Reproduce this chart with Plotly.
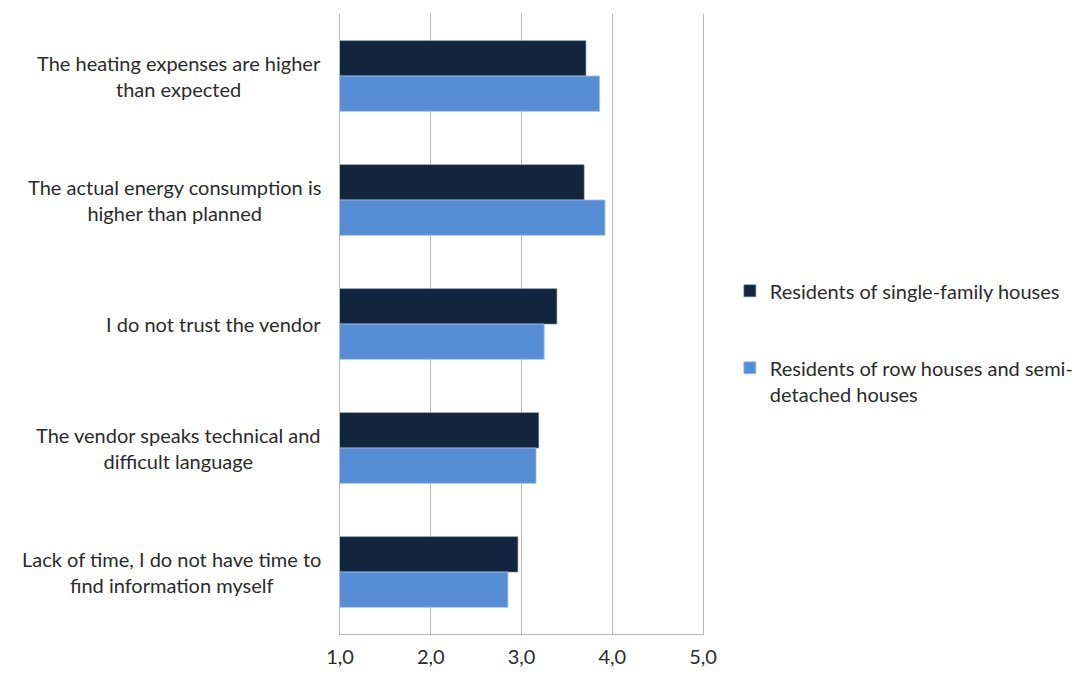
import plotly.graph_objects as go

# Survey statements (top to bottom) and mean agreement scores per housing type
statements = [
    "The heating expenses are higher<br>than expected",
    "The actual energy consumption is<br>higher than planned",
    "I do not trust the vendor",
    "The vendor speaks technical and<br>difficult language",
    "Lack of time, I do not have time to<br>find information myself",
]
single_family = [3.71, 3.69, 3.39, 3.19, 2.96]
row_semi_detached = [3.86, 3.92, 3.25, 3.16, 2.85]

tick_values = [1, 2, 3, 4, 5]
tick_labels = ["1,0", "2,0", "3,0", "4,0", "5,0"]

series_names = [
    "Residents of single-family houses",
    "Residents of row houses and semi-<br>detached houses",
]

FONT = "Lato, 'Open Sans', sans-serif"
TEXT_COLOR = "#2b2b2b"
DARK = "#11253F"
LIGHT = "#558ED5"
GRID = "#b8b8b8"
SIZE = 20

fig = go.Figure()
fig.add_trace(go.Bar(
    y=statements, x=single_family, orientation="h",
    name=series_names[0], legendgroup="a",
    marker=dict(color=DARK, line=dict(color="rgba(120,135,155,0.6)", width=1)),
))
fig.add_trace(go.Bar(
    y=statements, x=row_semi_detached, orientation="h",
    name=series_names[1], legendgroup="b",
    marker=dict(color=LIGHT, line=dict(color="rgba(160,190,230,0.8)", width=1)),
))

# Category labels, centred in two lines to the left of the plot
for s in statements:
    fig.add_annotation(
        x=0, xref="paper", y=s, yref="y",
        text=s, showarrow=False, xanchor="right", yanchor="middle",
        xshift=-17, align="center",
        font=dict(family=FONT, size=SIZE, color=TEXT_COLOR),
    )

fig.update_layout(
    width=1083, height=675,
    margin=dict(l=340, r=380, t=14, b=41, autoexpand=False),
    paper_bgcolor="white", plot_bgcolor="white",
    barmode="group", bargap=0.43, bargroupgap=0,
    font=dict(family=FONT, size=SIZE, color=TEXT_COLOR),
    showlegend=True,
    legend=dict(
        x=1.074, xanchor="left", y=0.585, yanchor="top",
        traceorder="grouped", tracegroupgap=48, valign="top",
        font=dict(family=FONT, size=SIZE, color=TEXT_COLOR),
        bgcolor="rgba(0,0,0,0)",
    ),
    xaxis=dict(
        range=[1, 5], tickvals=tick_values, ticktext=tick_labels,
        showgrid=True, gridcolor=GRID, gridwidth=1,
        showline=True, linecolor=GRID, linewidth=1, mirror=False,
        zeroline=False, ticks="", ticklabelstandoff=5, automargin=False,
        tickfont=dict(family=FONT, size=SIZE, color=TEXT_COLOR),
    ),
    yaxis=dict(
        autorange="reversed", showticklabels=False, showgrid=False,
        zeroline=False, showline=True, linecolor=GRID, linewidth=1,
        mirror=True, ticks="", automargin=False,
    ),
)

fig.write_html("out.html")
